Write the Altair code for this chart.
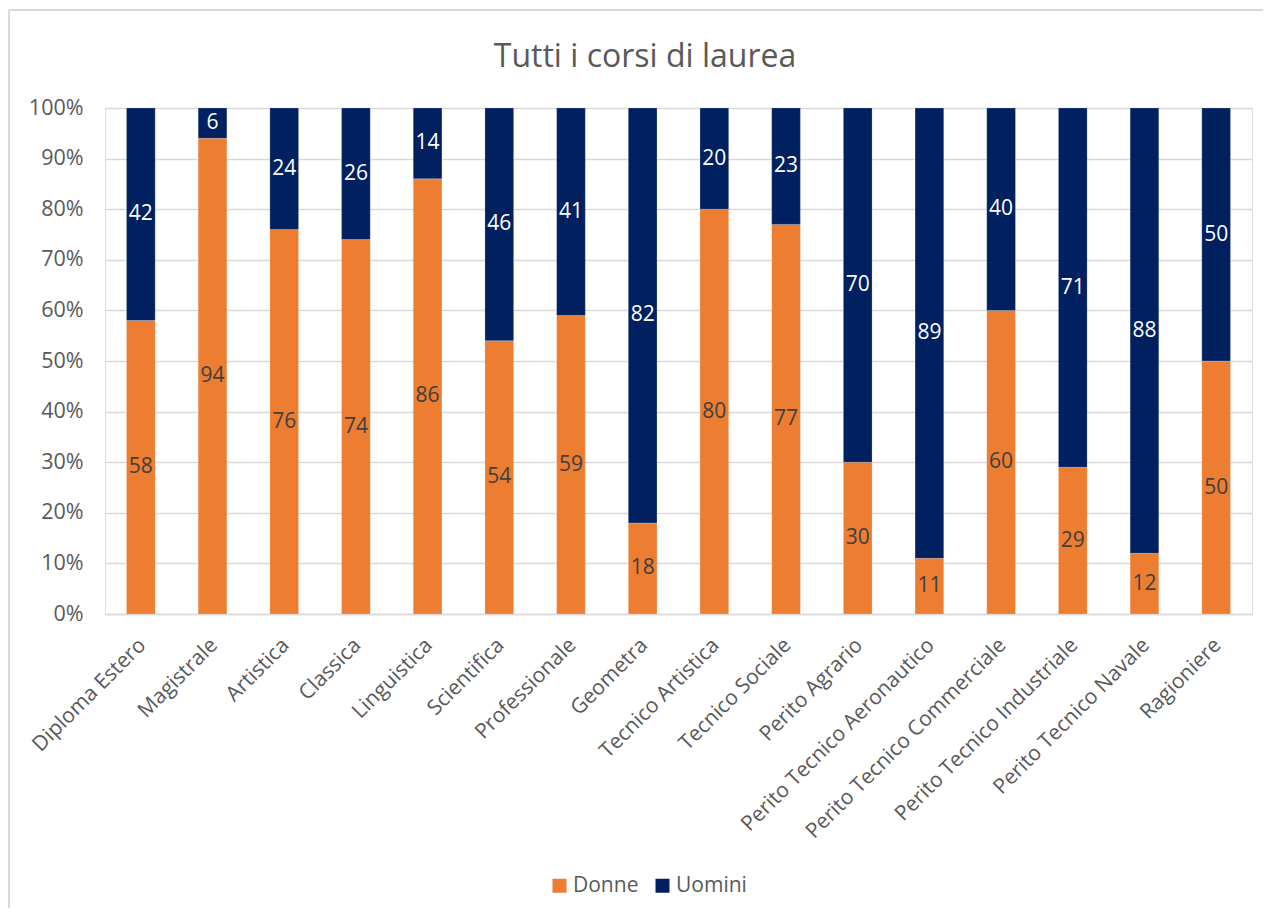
import altair as alt
import pandas as pd

categories = ["Diploma Estero", "Magistrale", "Artistica", "Classica", "Linguistica",
              "Scientifica", "Professionale", "Geometra", "Tecnico Artistica",
              "Tecnico Sociale", "Perito Agrario", "Perito Tecnico Aeronautico",
              "Perito Tecnico Commerciale", "Perito Tecnico Industriale",
              "Perito Tecnico Navale", "Ragioniere"]
donne = [58, 94, 76, 74, 86, 54, 59, 18, 80, 77, 30, 11, 60, 29, 12, 50]
uomini = [42, 6, 24, 26, 14, 46, 41, 82, 20, 23, 70, 89, 40, 71, 88, 50]
series = ["Donne", "Uomini"]
colors = ["#ED7D31", "#002060"]
title_text = "Tutti i corsi di laurea"

rows = []
for i, c in enumerate(categories):
    tot = donne[i] + uomini[i]
    rows.append({"cat": c, "serie": "Donne", "val": donne[i],
                 "y0": 0, "y1": donne[i] / tot, "mid": donne[i] / tot / 2})
    rows.append({"cat": c, "serie": "Uomini", "val": uomini[i],
                 "y0": donne[i] / tot, "y1": 1.0,
                 "mid": donne[i] / tot + uomini[i] / tot / 2})
df = pd.DataFrame(rows)
tdf = pd.DataFrame({"t": [title_text]})

FONT = "Open Sans"
GRAY = "#595959"

xenc = alt.X("cat:N", sort=categories, title=None,
             scale=alt.Scale(paddingInner=0.6, paddingOuter=0.3),
             axis=alt.Axis(labelAngle=-45, labelFontSize=21, labelColor=GRAY,
                           labelFont=FONT, ticks=False, domainColor="#D9D9D9",
                           domainWidth=1.5, labelPadding=20, labelOffset=-6,
                           labelLimit=400))

bars = alt.Chart(df).mark_bar(stroke="white", strokeWidth=0.5, strokeOpacity=0.4).encode(
    x=xenc,
    y=alt.Y("y0:Q", scale=alt.Scale(domain=[0, 1]), title=None,
            axis=alt.Axis(format="%", values=[i / 10 for i in range(11)],
                          labelFontSize=21.5, labelColor=GRAY, labelFont=FONT,
                          ticks=False, domain=False, gridColor="#D9D9D9",
                          gridWidth=1.5, labelPadding=22)),
    y2="y1:Q",
    color=alt.Color("serie:N", scale=alt.Scale(domain=series, range=colors),
                    legend=alt.Legend(title=None, orient="none", direction="horizontal",
                                      legendX=444, legendY=767, symbolType="square",
                                      symbolSize=196, symbolStrokeWidth=0,
                                      labelFontSize=21, labelColor=GRAY, labelFont=FONT,
                                      columnPadding=13, labelOffset=3)),
)

labels = alt.Chart(df).mark_text(fontSize=21, font=FONT, baseline="middle").encode(
    x=alt.X("cat:N", sort=categories),
    y=alt.Y("mid:Q"),
    text=alt.Text("val:Q"),
    color=alt.Color("serie:N", scale=alt.Scale(domain=series, range=["#404040", "#FFFFFF"]),
                    legend=None),
)

title = alt.Chart(tdf).mark_text(fontSize=32, font=FONT, color=GRAY, baseline="alphabetic").encode(
    x=alt.value(540), y=alt.value(-41), text="t:N")

frame_left = alt.Chart(df).mark_rule(color="#D9D9D9", strokeWidth=2).encode(
    x=alt.value(-96), y=alt.value(-98), y2=alt.value(800))
frame_top = alt.Chart(df).mark_rule(color="#D9D9D9", strokeWidth=2).encode(
    x=alt.value(-96), x2=alt.value(1170), y=alt.value(-98))

chart = alt.layer(frame_left, frame_top, title, bars, labels).resolve_scale(color="independent").properties(
    width=1147, height=506,
    padding={"left": 97, "top": 100, "right": 11, "bottom": 294},
    autosize=alt.AutoSizeParams(type="none"),
).configure_view(stroke=None).configure(background="white")

chart.save("out.html", embed_options={"renderer": "svg", "actions": False})
